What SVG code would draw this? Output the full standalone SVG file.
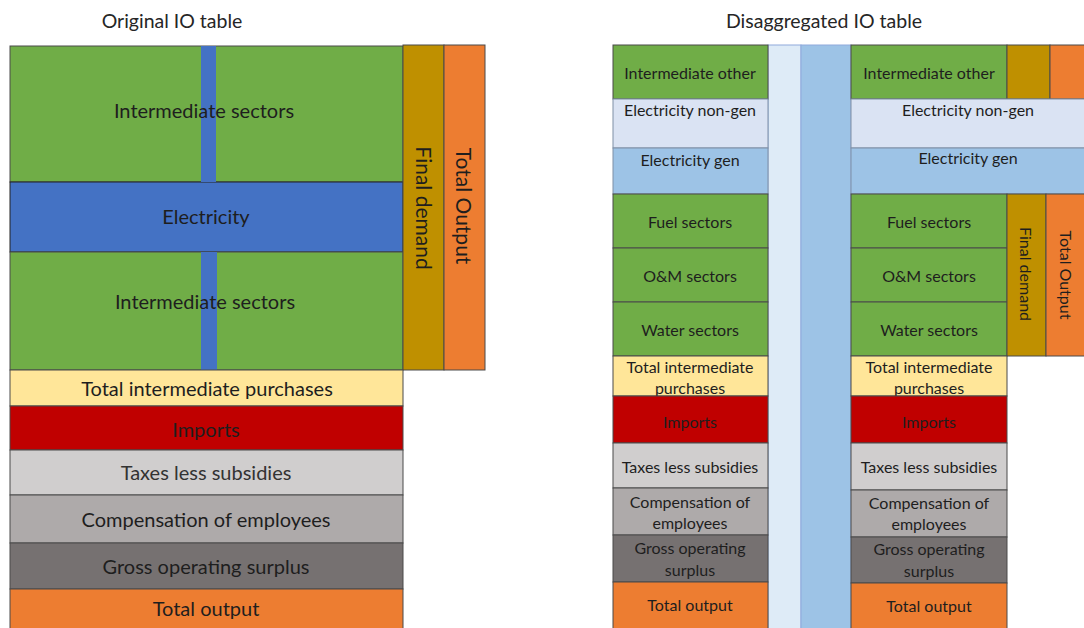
<svg xmlns="http://www.w3.org/2000/svg" width="1084" height="628" viewBox="0 0 1084 628">
  <style>
    rect { stroke: #4a4a4a; stroke-width: 1; }
    .title { font-family: Lato, "Liberation Sans", sans-serif; font-size: 19.5px; fill: #262626; text-anchor: middle; }
    .big { font-family: Lato, "Liberation Sans", sans-serif; font-size: 20px; fill: #1e1e1e; text-anchor: middle; dominant-baseline: central; }
    .vbig { font-family: Lato, "Liberation Sans", sans-serif; font-size: 21px; fill: #1e1e1e; text-anchor: middle; dominant-baseline: central; }
    .sm { font-family: Lato, "Liberation Sans", sans-serif; font-size: 16px; fill: #1e1e1e; text-anchor: middle; dominant-baseline: central; }
    .vsm { font-family: Lato, "Liberation Sans", sans-serif; font-size: 16px; fill: #1e1e1e; text-anchor: middle; dominant-baseline: central; }
    .green { fill: #70ad47; }
    .blue { fill: #4472c4; stroke: none; }
    .gold { fill: #bf9000; }
    .orange { fill: #ed7d31; }
    .yellow { fill: #ffe699; }
    .red { fill: #c00000; }
    .lgray { fill: #d0cece; }
    .mgray { fill: #aeaaaa; }
    .dgray { fill: #767171; }
    .pale { fill: #dae3f3; }
    .sky { fill: #9dc3e6; }
    .strip { fill: #deebf7; stroke: #8faadc; }
    .strip2 { fill: #9dc3e6; stroke: #8faadc; }
  </style>

  <!-- Original table -->
  <g id="original-title"><text class="title" x="172" y="28">Original IO table</text></g>

  <g id="orig-intermediate-top">
    <rect class="green" x="10" y="46" width="393" height="136"/>
  </g>
  <g id="orig-electricity">
    <rect class="blue" x="10" y="182" width="393" height="70" style="stroke:#222;"/>
  </g>
  <g id="orig-intermediate-bottom">
    <rect class="green" x="10" y="252" width="393" height="118"/>
  </g>
  <g id="orig-electricity-column">
    <rect class="blue" x="201" y="46" width="15" height="136"/>
    <rect class="blue" x="201" y="252" width="16" height="118"/>
  </g>
  <g id="orig-labels-upper">
    <text class="big" x="204" y="110">Intermediate sectors</text>
    <text class="big" x="206" y="216">Electricity</text>
    <text class="big" x="205" y="301">Intermediate sectors</text>
  </g>
  <g id="orig-final-demand">
    <rect class="gold" x="403" y="45" width="41" height="325"/>
    <text class="vbig" transform="translate(424 208) rotate(90)">Final demand</text>
  </g>
  <g id="orig-total-output-col">
    <rect class="orange" x="444" y="45" width="41" height="325"/>
    <text class="vbig" transform="translate(464 206) rotate(90)">Total Output</text>
  </g>
  <g id="orig-total-intermediate">
    <rect class="yellow" x="10" y="370" width="393" height="36"/>
    <text class="big" x="207" y="388">Total intermediate purchases</text>
  </g>
  <g id="orig-imports">
    <rect class="red" x="10" y="406" width="393" height="44"/>
    <text class="big" x="206" y="429">Imports</text>
  </g>
  <g id="orig-taxes">
    <rect class="lgray" x="10" y="450" width="393" height="45"/>
    <text class="big" x="206" y="472" style="fill:#333">Taxes less subsidies</text>
  </g>
  <g id="orig-compensation">
    <rect class="mgray" x="10" y="495" width="393" height="48"/>
    <text class="big" x="206" y="519">Compensation of employees</text>
  </g>
  <g id="orig-gross">
    <rect class="dgray" x="10" y="543" width="393" height="46"/>
    <text class="big" x="206" y="566">Gross operating surplus</text>
  </g>
  <g id="orig-total-output">
    <rect class="orange" x="10" y="589" width="393" height="40"/>
    <text class="big" x="206" y="608">Total output</text>
  </g>

  <!-- Disaggregated table -->
  <g id="disagg-title"><text class="title" x="824" y="28">Disaggregated IO table</text></g>

  <g id="strip-nongen"><rect class="strip" x="768" y="45" width="33" height="584"/></g>
  <g id="strip-gen"><rect class="strip2" x="801" y="45" width="50" height="584"/></g>

  <g id="l-intermediate-other">
    <rect class="green" x="613" y="45" width="155" height="54"/>
    <text class="sm" x="690" y="72">Intermediate other</text>
  </g>
  <g id="l-elec-nongen">
    <rect class="pale" x="613" y="99" width="155" height="49" style="stroke:#7f8fa6"/>
    <text class="sm" x="690" y="109">Electricity non-gen</text>
  </g>
  <g id="l-elec-gen">
    <rect class="sky" x="613" y="148" width="155" height="46" style="stroke:#7f8fa6"/>
    <text class="sm" x="690" y="159">Electricity gen</text>
  </g>
  <g id="l-fuel">
    <rect class="green" x="613" y="194" width="155" height="54"/>
    <text class="sm" x="690" y="221">Fuel sectors</text>
  </g>
  <g id="l-om">
    <rect class="green" x="613" y="248" width="155" height="54"/>
    <text class="sm" x="690" y="275">O&amp;M sectors</text>
  </g>
  <g id="l-water">
    <rect class="green" x="613" y="302" width="155" height="54"/>
    <text class="sm" x="690" y="329">Water sectors</text>
  </g>
  <g id="l-total-intermediate">
    <rect class="yellow" x="613" y="356" width="155" height="40"/>
    <text class="sm" x="690" y="366">Total intermediate</text>
    <text class="sm" x="690" y="387">purchases</text>
  </g>
  <g id="l-imports">
    <rect class="red" x="613" y="396" width="155" height="47"/>
    <text class="sm" x="690" y="421">Imports</text>
  </g>
  <g id="l-taxes">
    <rect class="lgray" x="613" y="443" width="155" height="45"/>
    <text class="sm" x="690" y="466">Taxes less subsidies</text>
  </g>
  <g id="l-compensation">
    <rect class="mgray" x="613" y="488" width="155" height="47"/>
    <text class="sm" x="690" y="501">Compensation of</text>
    <text class="sm" x="690" y="522">employees</text>
  </g>
  <g id="l-gross">
    <rect class="dgray" x="613" y="535" width="155" height="47"/>
    <text class="sm" x="690" y="547">Gross operating</text>
    <text class="sm" x="690" y="569">surplus</text>
  </g>
  <g id="l-total-output">
    <rect class="orange" x="613" y="582" width="155" height="47"/>
    <text class="sm" x="690" y="604">Total output</text>
  </g>

  <g id="r-intermediate-other">
    <rect class="green" x="851" y="45" width="156" height="54"/>
    <text class="sm" x="929" y="72">Intermediate other</text>
  </g>
  <g id="r-fd-top"><rect class="gold" x="1007" y="45" width="43" height="54"/></g>
  <g id="r-to-top"><rect class="orange" x="1050" y="45" width="35" height="54"/></g>
  <g id="r-elec-nongen">
    <rect class="pale" x="851" y="99" width="234" height="49" style="stroke:#7f8fa6"/>
    <text class="sm" x="968" y="109">Electricity non-gen</text>
  </g>
  <g id="r-elec-gen">
    <rect class="sky" x="851" y="148" width="234" height="46" style="stroke:#7f8fa6"/>
    <text class="sm" x="968" y="157">Electricity gen</text>
  </g>
  <g id="r-fuel">
    <rect class="green" x="851" y="194" width="156" height="54"/>
    <text class="sm" x="929" y="221">Fuel sectors</text>
  </g>
  <g id="r-om">
    <rect class="green" x="851" y="248" width="156" height="54"/>
    <text class="sm" x="929" y="275">O&amp;M sectors</text>
  </g>
  <g id="r-water">
    <rect class="green" x="851" y="302" width="156" height="54"/>
    <text class="sm" x="929" y="329">Water sectors</text>
  </g>
  <g id="r-final-demand">
    <rect class="gold" x="1007" y="194" width="39" height="162"/>
    <text class="vsm" transform="translate(1026 274) rotate(90)">Final demand</text>
  </g>
  <g id="r-total-output-col">
    <rect class="orange" x="1046" y="194" width="39" height="162"/>
    <text class="vsm" transform="translate(1066 275) rotate(90)">Total Output</text>
  </g>
  <g id="r-total-intermediate">
    <rect class="yellow" x="851" y="356" width="156" height="40"/>
    <text class="sm" x="929" y="366">Total intermediate</text>
    <text class="sm" x="929" y="387">purchases</text>
  </g>
  <g id="r-imports">
    <rect class="red" x="851" y="396" width="156" height="47"/>
    <text class="sm" x="929" y="421">Imports</text>
  </g>
  <g id="r-taxes">
    <rect class="lgray" x="851" y="443" width="156" height="47"/>
    <text class="sm" x="929" y="466">Taxes less subsidies</text>
  </g>
  <g id="r-compensation">
    <rect class="mgray" x="851" y="490" width="156" height="47"/>
    <text class="sm" x="929" y="502">Compensation of</text>
    <text class="sm" x="929" y="523">employees</text>
  </g>
  <g id="r-gross">
    <rect class="dgray" x="851" y="537" width="156" height="46"/>
    <text class="sm" x="929" y="548">Gross operating</text>
    <text class="sm" x="929" y="570">surplus</text>
  </g>
  <g id="r-total-output">
    <rect class="orange" x="851" y="583" width="156" height="46"/>
    <text class="sm" x="929" y="605">Total output</text>
  </g>

  <g id="connectors"/>
</svg>
